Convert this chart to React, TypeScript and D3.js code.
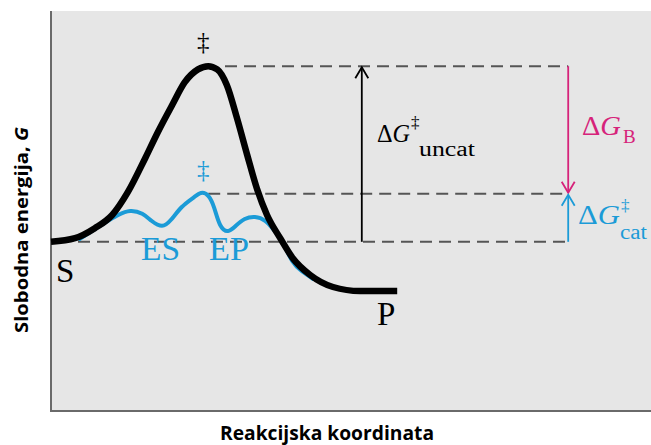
import { useEffect, useRef } from 'react';
import * as d3 from 'd3';

const W = 651;
const H = 445;

const COLORS = {
    page: '#ffffff',
    plot: '#e6e6e6',
    frame: '#6a6a6a',
    uncat: '#000000',
    cat: '#1b9bd7',
    binding: '#d6237a',
    dash: '#555555',
};

// reaction coordinate (0-100) / free energy (0-100)
const uncatCoord = [0, 4, 7.3, 10.2, 12.8, 15.7, 17.8, 20.2, 22.3, 24.5, 26.2, 27.7, 29.3, 31, 32.7, 34.3, 36, 38.2, 40.3, 43.2, 47, 51.5, 57.7];
const uncatEnergy = [42.3, 43.2, 45.7, 49, 54.7, 63.2, 69.7, 76.5, 82.2, 85.4, 86.2, 85.4, 81.5, 73.2, 64, 55.7, 49, 43.2, 38.2, 34, 31, 30, 30];

const catCoord = [4.8, 8.7, 11.2, 13.2, 15.2, 16.8, 18.5, 20, 21.8, 23.7, 25, 26.2, 27.2, 28.2, 29.5, 30.8, 32.3, 34, 35.7, 37.3, 38.5, 40.2, 41.8, 43.7];
const catEnergy = [43, 46.8, 49, 50, 49.3, 47.5, 46.3, 47.8, 51, 53.3, 54.5, 53.8, 50.8, 46.5, 45, 46.3, 48, 48.5, 47.5, 45, 42.5, 37.5, 35, 33];

// energy levels and where the guide lines run
const levelNames = ['S', 'uncatTS', 'catTS'];
const levelEnergy = [42.3, 86.2, 54.3];
const levelStart = [4.5, 29, 26.2];
const guideEnd = 86.2;
const uncatArrowAt = 51.8;

export default function App() {
    const svgRef = useRef<SVGSVGElement>(null);

    useEffect(() => {
        if (!svgRef.current) return;
        const svg = d3.select(svgRef.current);
        svg.selectAll('*').remove();

        const plot = { left: 51, top: 11, right: W, bottom: 411 };
        const x = d3.scaleLinear().domain([0, 100]).range([plot.left, plot.right]);
        const y = d3.scaleLinear().domain([0, 100]).range([plot.bottom, plot.top]);

        svg.append('rect')
            .attr('x', plot.left).attr('y', plot.top)
            .attr('width', plot.right - plot.left).attr('height', plot.bottom - plot.top)
            .attr('fill', COLORS.plot);

        // frame: left and bottom only
        svg.append('path')
            .attr('d', `M${plot.left},${plot.top}V${plot.bottom}H${plot.right}`)
            .attr('fill', 'none')
            .attr('stroke', COLORS.frame)
            .attr('stroke-width', 2);

        // dashed guides
        levelNames.forEach((name, i) => {
            svg.append('line')
                .attr('class', `guide-${name}`)
                .attr('x1', x(levelStart[i])).attr('x2', x(guideEnd))
                .attr('y1', y(levelEnergy[i])).attr('y2', y(levelEnergy[i]))
                .attr('stroke', COLORS.dash)
                .attr('stroke-width', 2)
                .attr('stroke-dasharray', '12,7');
        });

        const catLine = d3.line<number>()
            .x((_, i) => x(catCoord[i]))
            .y(d => y(d))
            .curve(d3.curveNatural);
        const uncatLine = d3.line<number>()
            .x((_, i) => x(uncatCoord[i]))
            .y(d => y(d))
            .curve(d3.curveMonotoneX);

        svg.append('path')
            .attr('d', catLine(catEnergy))
            .attr('fill', 'none')
            .attr('stroke', COLORS.cat)
            .attr('stroke-width', 4)
            .attr('stroke-linecap', 'round');

        svg.append('path')
            .attr('d', uncatLine(uncatEnergy))
            .attr('fill', 'none')
            .attr('stroke', COLORS.uncat)
            .attr('stroke-width', 6.5);

        // arrows with open heads
        const arrow = (xv: number, from: number, to: number, color: string) => {
            const x0 = x(xv);
            const y0 = y(from);
            const y1 = y(to);
            const dir = y1 < y0 ? 1 : -1;
            svg.append('line')
                .attr('x1', x0).attr('x2', x0)
                .attr('y1', y0).attr('y2', y1 + dir * 1)
                .attr('stroke', color).attr('stroke-width', 1.8);
            svg.append('path')
                .attr('d', `M${x0 - 6.5},${y1 + dir * 12}L${x0},${y1 + dir * 1}L${x0 + 6.5},${y1 + dir * 12}`)
                .attr('fill', 'none')
                .attr('stroke', color).attr('stroke-width', 1.8);
        };
        arrow(uncatArrowAt, levelEnergy[0], levelEnergy[1], COLORS.uncat);
        arrow(guideEnd, levelEnergy[1], levelEnergy[2], COLORS.binding);
        arrow(guideEnd, levelEnergy[0], levelEnergy[2], COLORS.cat);

        const serif = "'Liberation Serif', 'Times New Roman', serif";
        const label = (tx: number, ty: number, text: string, size: number, color: string, opts: any = {}) => {
            const t = svg.append('text')
                .attr('x', tx).attr('y', ty)
                .style('font-family', serif)
                .style('font-size', `${size}px`)
                .style('fill', color)
                .text(text);
            if (opts.anchor) t.attr('text-anchor', opts.anchor);
            if (opts.len) t.attr('textLength', opts.len).attr('lengthAdjust', 'spacingAndGlyphs');
            return t;
        };
        // "ΔG" with italic G
        const deltaG = (tx: number, ty: number, size: number, color: string, len: number) => {
            const t = svg.append('text')
                .attr('x', tx).attr('y', ty)
                .attr('textLength', len).attr('lengthAdjust', 'spacingAndGlyphs')
                .style('font-family', serif)
                .style('font-size', `${size}px`)
                .style('fill', color);
            t.append('tspan').text('Δ');
            t.append('tspan').style('font-style', 'italic').text('G');
            return t;
        };

        // double daggers over the transition states
        label(x(26.2) - 5, 50, '‡', 25, COLORS.uncat, { anchor: 'middle' });
        label(x(25.2) + 1, 178, '‡', 25, COLORS.cat, { anchor: 'middle' });

        label(56, 282, 'S', 33, COLORS.uncat);
        label(377, 325, 'P', 33, COLORS.uncat);
        label(141, 260, 'ES', 33, COLORS.cat, { len: 39 });
        label(209, 260, 'EP', 33, COLORS.cat, { len: 40 });

        // ΔG‡ uncat
        deltaG(377, 142, 26, COLORS.uncat, 33);
        label(411, 128, '‡', 17, COLORS.uncat);
        label(419, 156, 'uncat', 20, COLORS.uncat, { len: 56 });

        // ΔG B
        deltaG(582, 135, 28, COLORS.binding, 39);
        label(623, 143, 'B', 19, COLORS.binding);

        // ΔG‡ cat
        deltaG(578, 224, 28, COLORS.cat, 42);
        label(621, 211, '‡', 17, COLORS.cat);
        label(620, 239, 'cat', 20, COLORS.cat, { len: 27 });

        // axis titles
        const sans = "'Open Sans', 'DejaVu Sans', sans-serif";
        svg.append('text')
            .attr('x', 327).attr('y', 440)
            .attr('text-anchor', 'middle')
            .attr('textLength', 214).attr('lengthAdjust', 'spacingAndGlyphs')
            .style('font-family', sans).style('font-weight', 700).style('font-size', '19px')
            .text('Reakcijska koordinata');

        const yt = svg.append('text')
            .attr('transform', 'translate(28,230) rotate(-90)')
            .attr('text-anchor', 'middle')
            .attr('textLength', 206).attr('lengthAdjust', 'spacingAndGlyphs')
            .style('font-family', sans).style('font-weight', 700).style('font-size', '18px');
        yt.append('tspan').text('Slobodna energija, ');
        yt.append('tspan').style('font-style', 'italic').text('G');
    }, []);

    return (
        <div style={{ position: 'fixed', left: 0, top: 0, width: W, height: H, background: COLORS.page }}>
            <svg ref={svgRef} width={W} height={H} />
        </div>
    );
}
